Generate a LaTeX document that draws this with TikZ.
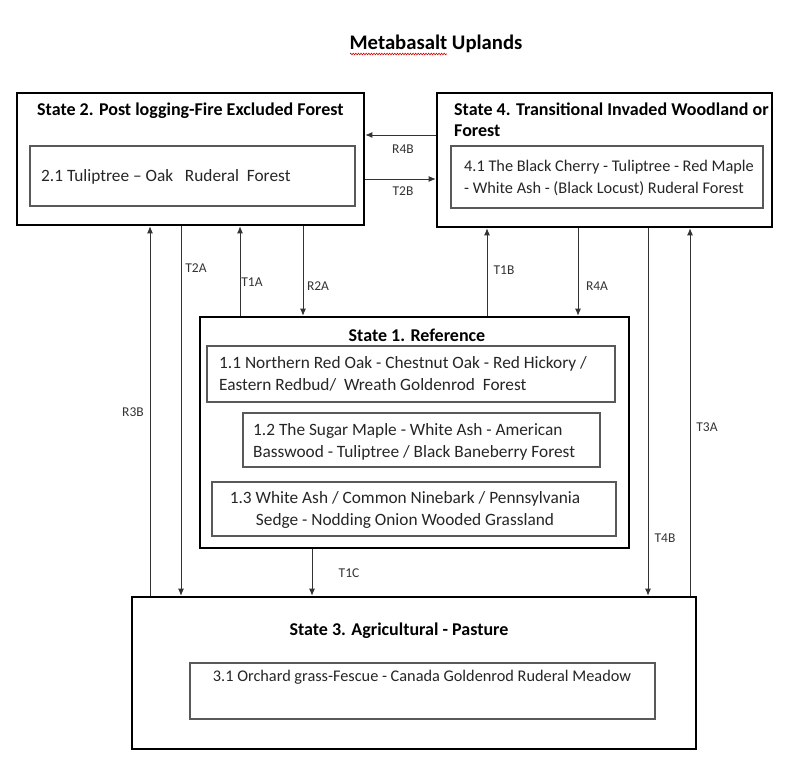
\documentclass[tikz,border=0pt]{standalone}
\usepackage{fontspec}
\setmainfont{Carlito}
\usetikzlibrary{arrows.meta,decorations.pathmorphing}
\begin{document}
\begin{tikzpicture}[x=1pt,y=-1pt,
  statebox/.style={draw=black,line width=2.6pt,inner sep=0pt},
  phasebox/.style={draw=black!65,line width=1.1pt,inner sep=0pt},
  titletext/.style={font=\fontsize{18}{21}\selectfont\bfseries,inner sep=0pt,align=left},
  bodytext/.style={font=\fontsize{17.3}{22}\selectfont,inner sep=0pt,align=left,text=black!85},
  condtext/.style={font=\fontsize{16.3}{22}\selectfont,inner sep=0pt,align=left,text=black!85},
  lbl/.style={font=\fontsize{13.5}{15}\selectfont,text=black!80,inner sep=0pt},
  arr/.style={draw=black!80,line width=0.9pt,-{Latex[length=7pt,width=6pt]}},
]
\useasboundingbox (0,0) rectangle (800,767);
\fill[white] (0,0) rectangle (800,767);

% title
\node[font=\fontsize{20.7}{22}\selectfont\bfseries,inner sep=0pt] (title) at (436,44) {Metabasalt Uplands};
\draw[red!85!black,line width=0.6pt,decorate,decoration={zigzag,segment length=2.6pt,amplitude=0.8pt}]
  (350,54) -- (447,54);

% state boxes
\node[statebox,minimum width=347pt,minimum height=132pt] (s2) at (190.5,159) {};
\node[statebox,minimum width=335pt,minimum height=134pt] (s4) at (604.5,160) {};
\node[statebox,minimum width=429pt,minimum height=231pt] (s1) at (414.5,432.5) {};
\node[statebox,minimum width=564pt,minimum height=152pt] (s3) at (414,673) {};

% phase boxes
\node[phasebox,minimum width=325pt,minimum height=60pt] (p21) at (192.5,176) {};
\node[phasebox,minimum width=312pt,minimum height=62pt] (p41) at (607,177) {};
\node[phasebox,minimum width=408pt,minimum height=56pt] (p11) at (411,374) {};
\node[phasebox,minimum width=357pt,minimum height=54pt] (p12) at (421.5,440) {};
\node[phasebox,minimum width=404pt,minimum height=54pt] (p13) at (414,509) {};
\node[phasebox,minimum width=465pt,minimum height=56pt] (p31) at (422.5,691) {};

% state titles
\node[titletext,anchor=west] (t2) at (37,111) {State 2. Post logging-Fire Excluded Forest};
\node[titletext,anchor=west] (t4) at (454,119.5) {State 4. Transitional Invaded Woodland or\\Forest};
\node[titletext] (t1) at (417,335) {State 1. Reference};
\node[titletext] (t3) at (399,631) {State 3. Agricultural - Pasture};

% phase texts
\node[bodytext,anchor=west] (x21) at (41,177) {2.1 Tuliptree -- Oak\ \ \ Ruderal\ \ Forest};
\node[condtext,anchor=west] (x41) at (464,178) {4.1 The Black Cherry - Tuliptree - Red Maple\\- White Ash - (Black Locust) Ruderal Forest};
\node[bodytext,anchor=west] (x11) at (219,373.5) {1.1 Northern Red Oak - Chestnut Oak - Red Hickory /\\Eastern Redbud/\ \ Wreath Goldenrod\ \ Forest};
\node[bodytext,anchor=west] (x12) at (253,441.5) {1.2 The Sugar Maple - White Ash - American\\Basswood - Tuliptree / Black Baneberry Forest};
\node[bodytext,align=center] (x13) at (405,509.5) {1.3 White Ash / Common Ninebark / Pennsylvania\\Sedge - Nodding Onion Wooded Grassland};
\node[condtext] (x31) at (422,677) {3.1 Orchard grass-Fescue - Canada Goldenrod Ruderal Meadow};

% helper coordinates for connector positions
\coordinate (yR4B) at (0,135);
\coordinate (yT2B) at (0,179);
\coordinate (xR3B) at (150,0);
\coordinate (xT2A) at (181,0);
\coordinate (xT1A) at (240,0);
\coordinate (xR2A) at (303,0);
\coordinate (xT1C) at (312,0);
\coordinate (xT1B) at (487,0);
\coordinate (xR4A) at (578,0);
\coordinate (xT4B) at (648,0);
\coordinate (xT3A) at (690,0);

% connectors
\draw[arr] (s4.west |- yR4B) -- (s2.east |- yR4B);
\draw[arr] (s2.east |- yT2B) -- (s4.west |- yT2B);
\draw[arr] (s3.north -| xR3B) -- (s2.south -| xR3B);
\draw[arr] (s2.south -| xT2A) -- (s3.north -| xT2A);
\draw[arr] (s1.north -| xT1A) -- (s2.south -| xT1A);
\draw[arr] (s2.south -| xR2A) -- (s1.north -| xR2A);
\draw[arr] (s1.south -| xT1C) -- (s3.north -| xT1C);
\draw[arr] (s1.north -| xT1B) -- (s4.south -| xT1B);
\draw[arr] (s4.south -| xR4A) -- (s1.north -| xR4A);
\draw[arr] (s4.south -| xT4B) -- (s3.north -| xT4B);
\draw[arr] (s3.north -| xT3A) -- (s4.south -| xT3A);

% connector labels
\node[lbl] (lR4B) at (403,149) {R4B};
\node[lbl] (lT2B) at (403,191) {T2B};
\node[lbl] (lT2A) at (196,268) {T2A};
\node[lbl] (lT1A) at (252,282) {T1A};
\node[lbl] (lR2A) at (318,286) {R2A};
\node[lbl] (lT1B) at (504,270) {T1B};
\node[lbl] (lR4A) at (597,286) {R4A};
\node[lbl] (lR3B) at (133,412) {R3B};
\node[lbl] (lT4B) at (665,538) {T4B};
\node[lbl] (lT3A) at (707,427) {T3A};
\node[lbl] (lT1C) at (349,573) {T1C};
\end{tikzpicture}
\end{document}
